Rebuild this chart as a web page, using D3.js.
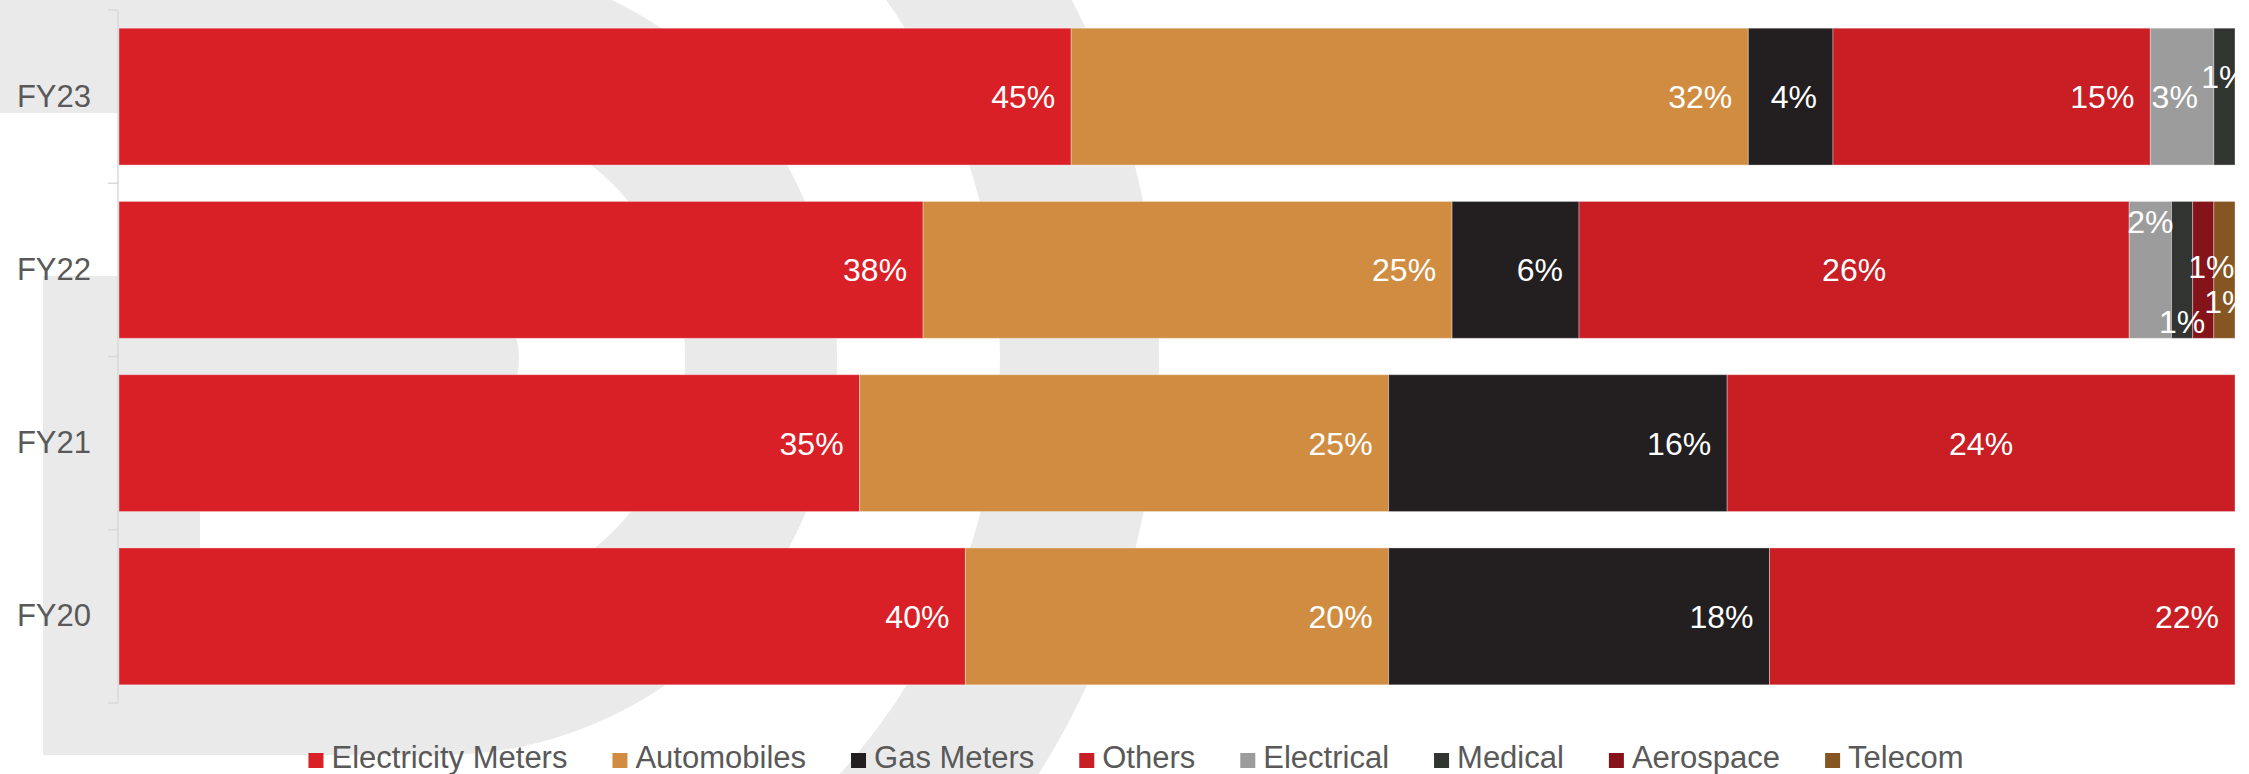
<!DOCTYPE html>
<html>
<head>
<meta charset="utf-8">
<script src="https://cdn.jsdelivr.net/npm/d3@7/dist/d3.min.js"></script>
<style>
  html, body { margin: 0; padding: 0; background: #fff; }
  svg { display: block; }
  text { font-family: "Liberation Sans", Arial, sans-serif; }
</style>
</head>
<body>
<svg id="chart" width="2249" height="774"></svg>
<script>
// ---- data ----
const categories = ["FY23", "FY22", "FY21", "FY20"];
const seriesNames = ["Electricity Meters", "Automobiles", "Gas Meters", "Others", "Electrical", "Medical", "Aerospace", "Telecom"];
const electricityMeters = [45, 38, 35, 40];
const automobiles       = [32, 25, 25, 20];
const gasMeters         = [4, 6, 16, 18];
const others            = [15, 26, 24, 22];
const electrical        = [3, 2, 0, 0];
const medical           = [1, 1, 0, 0];
const aerospace         = [0, 1, 0, 0];
const telecom           = [0, 1, 0, 0];
const seriesColors = ["#DA2027", "#D08D42", "#231F20", "#C81E24", "#9C9C9C", "#323431", "#84131A", "#855522"];

// label placement overrides (style only)
const labelOverrides = [
  { cat: "FY23", series: "Medical",    mode: "center", dx: 0, dy: -20 },
  { cat: "FY22", series: "Electrical", mode: "center", dx: 0, dy: -48 },
  { cat: "FY22", series: "Medical",    mode: "center", dx: 0, dy: 52 },
  { cat: "FY22", series: "Aerospace",  mode: "center", dx: 8, dy: -3 },
  { cat: "FY22", series: "Telecom",    mode: "center", dx: 3, dy: 32 },
  { cat: "FY22", series: "Others",     mode: "center", dx: 0, dy: 0 },
  { cat: "FY21", series: "Others",     mode: "center", dx: 0, dy: 0 }
];

const seriesValues = [electricityMeters, automobiles, gasMeters, others, electrical, medical, aerospace, telecom];
const table = categories.map((c, i) => {
  const row = { cat: c };
  seriesNames.forEach((s, j) => row[s] = seriesValues[j][i]);
  return row;
});

const svg = d3.select("#chart");
const W = 2249, H = 774;
const plot = { left: 119, right: 2235, top: 10, bottom: 703 };

// ---- background watermark ----
const defs = svg.append("defs");
defs.append("clipPath").attr("id", "plotclip").append("rect")
  .attr("x", plot.left).attr("y", 0).attr("width", plot.right - plot.left).attr("height", H);

const wm = svg.append("g").attr("fill", "#EAEAEA");
const halfRing = (r0, r1) => d3.arc().innerRadius(r0).outerRadius(r1).startAngle(0).endAngle(Math.PI)();
wm.append("path").attr("transform", "translate(380,358)").attr("d", halfRing(620, 779));
wm.append("path").attr("transform", "translate(440,358)").attr("d", halfRing(245, 397));
wm.append("rect").attr("x", -10).attr("y", -39).attr("width", 451).attr("height", 152);
wm.append("rect").attr("x", 43).attr("y", 603).attr("width", 398).attr("height", 152);
wm.append("rect").attr("x", 43).attr("y", 276).attr("width", 157).attr("height", 479);
wm.append("rect").attr("x", 43).attr("y", 280).attr("width", 399).attr("height", 156);
wm.append("path").attr("transform", "translate(441,358)").attr("d", halfRing(0, 78));

// ---- scales ----
const x = d3.scaleLinear().domain([0, 100]).range([plot.left, plot.right]);
const y = d3.scaleBand().domain(categories).range([plot.top, plot.bottom])
  .paddingInner(0.21).paddingOuter(0.105);
const color = d3.scaleOrdinal().domain(seriesNames).range(seriesColors);

const stacked = d3.stack().keys(seriesNames)(table);

// ---- bars ----
const layers = svg.append("g").selectAll("g").data(stacked).join("g")
  .attr("fill", d => color(d.key));
layers.selectAll("rect").data(d => d.map(v => ({ key: d.key, v }))).join("rect")
  .filter(d => d.v[1] - d.v[0] > 0)
  .attr("x", d => x(d.v[0]))
  .attr("y", d => y(d.v.data.cat))
  .attr("width", d => x(d.v[1]) - x(d.v[0]))
  .attr("height", y.bandwidth())
  .attr("stroke", "#fff").attr("stroke-opacity", 0.35).attr("stroke-width", 1);

// ---- data labels ----
const labelG = svg.append("g").attr("clip-path", "url(#plotclip)");
const fontSize = 32;
stacked.forEach(layer => {
  layer.forEach(v => {
    const val = v[1] - v[0];
    if (val <= 0) return;
    const cat = v.data.cat;
    const x0 = x(v[0]), x1 = x(v[1]);
    const cy = y(cat) + y.bandwidth() / 2;
    const t = labelG.append("text")
      .attr("fill", "#fff").attr("font-size", fontSize)
      .text(val + "%");
    const tw = t.node().getComputedTextLength();
    const ov = labelOverrides.find(n => n.cat === cat && n.series === layer.key);
    let tx, anchor;
    const mode = ov ? ov.mode : (tw + 4 < x1 - x0 ? "end" : "center");
    if (mode === "end") { tx = x1 - 16; anchor = "end"; }
    else { tx = (x0 + x1) / 2; anchor = "middle"; }
    if (ov) tx += ov.dx;
    const ty = cy + (ov ? ov.dy : 0);
    t.attr("x", tx).attr("y", ty).attr("dy", "0.36em").attr("text-anchor", anchor);
  });
});

// ---- axis ----
const axisG = svg.append("g");
axisG.append("line")
  .attr("x1", plot.left - 1).attr("x2", plot.left - 1)
  .attr("y1", plot.top).attr("y2", plot.bottom)
  .attr("stroke", "#D9D9D9").attr("stroke-width", 1.5);
const boundaries = categories.map(c => y(c) - y.step() * y.paddingInner() / 2)
  .concat([y(categories[categories.length - 1]) + y.bandwidth() + y.step() * y.paddingInner() / 2]);
axisG.selectAll("line.tick").data(boundaries).join("line")
  .attr("class", "tick")
  .attr("x1", plot.left - 11).attr("x2", plot.left - 1)
  .attr("y1", d => d).attr("y2", d => d)
  .attr("stroke", "#D9D9D9").attr("stroke-width", 1.5);

const yAxis = d3.axisLeft(y).tickSize(0).tickPadding(27);
const ya = svg.append("g").attr("transform", `translate(${plot.left - 1},0)`).call(yAxis);
ya.select(".domain").remove();
ya.selectAll("text")
  .attr("fill", "#595959").attr("font-size", 31)
  .attr("font-family", '"Liberation Sans", Arial, sans-serif');

// ---- legend ----
const legend = svg.append("g");
const sq = 15, gapSq = 8, gapItem = 45, legendBaseline = 768;
let cursor = 0;
seriesNames.forEach(name => {
  const g = legend.append("g");
  g.append("rect").attr("width", sq).attr("height", sq)
    .attr("y", legendBaseline - sq).attr("fill", color(name));
  const t = g.append("text").attr("x", sq + gapSq).attr("y", legendBaseline)
    .attr("fill", "#595959").attr("font-size", 31).text(name);
  const w = sq + gapSq + t.node().getComputedTextLength();
  g.attr("transform", `translate(${cursor},0)`);
  cursor += w + gapItem;
});
const totalW = cursor - gapItem;
legend.attr("transform", `translate(${1136 - totalW / 2},0)`);
</script>
</body>
</html>
